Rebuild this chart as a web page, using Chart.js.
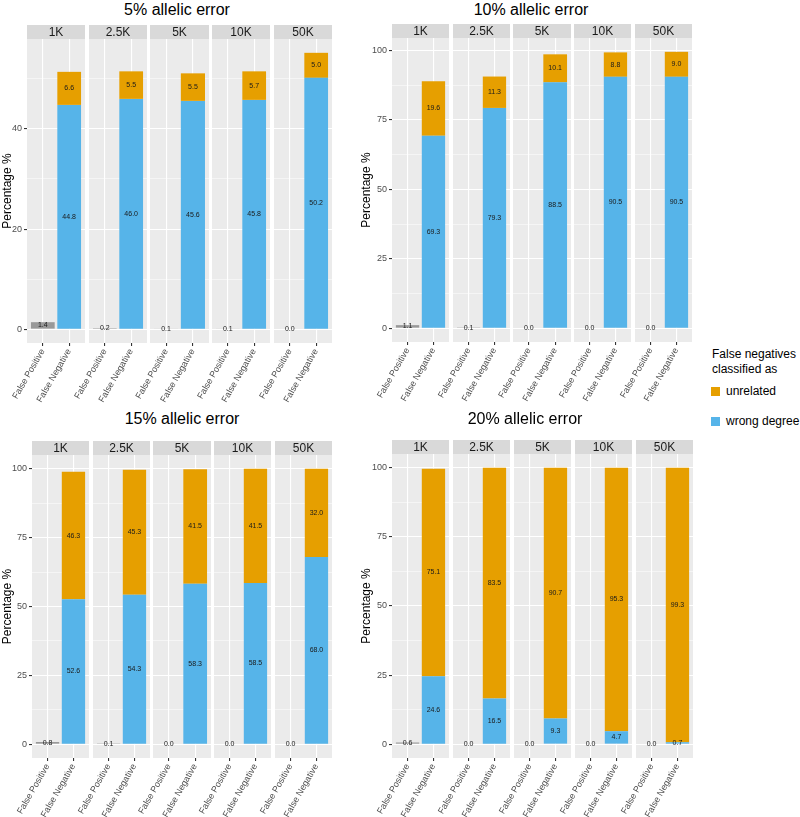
<!DOCTYPE html>
<html>
<head>
<meta charset="utf-8">
<script src="https://cdn.jsdelivr.net/npm/chart.js@4.4.1/dist/chart.umd.min.js"></script>
<style>
html,body{margin:0;padding:0;background:#fff;}
#root{position:relative;width:800px;height:817px;overflow:hidden;font-family:"Liberation Sans",Arial,Helvetica,sans-serif;}
#root canvas{position:absolute;}
.ptitle{position:absolute;font-size:16px;color:#000;white-space:nowrap;transform:translate(-50%,-50%);line-height:1;}
.lg{position:absolute;font-size:12px;color:#000;white-space:nowrap;line-height:15px;}
.sw{position:absolute;width:9px;height:9px;}
</style>
</head>
<body>
<div id="root"></div>
<script>
// ---------------- DATA ----------------
const facets = ['1K', '2.5K', '5K', '10K', '50K'];
const categories = ['False Positive', 'False Negative'];
const panelTitles = ['5% allelic error', '10% allelic error', '15% allelic error', '20% allelic error'];
const legendTitle = ['False negatives', 'classified as'];
const seriesNames = ['unrelated', 'wrong degree'];

const falsePositive5  = [1.4, 0.2, 0.1, 0.1, 0.0];
const wrongDegree5    = [44.8, 46.0, 45.6, 45.8, 50.2];
const unrelated5      = [6.6, 5.5, 5.5, 5.7, 5.0];

const falsePositive10 = [1.1, 0.1, 0.0, 0.0, 0.0];
const wrongDegree10   = [69.3, 79.3, 88.5, 90.5, 90.5];
const unrelated10     = [19.6, 11.3, 10.1, 8.8, 9.0];

const falsePositive15 = [0.8, 0.1, 0.0, 0.0, 0.0];
const wrongDegree15   = [52.6, 54.3, 58.3, 58.5, 68.0];
const unrelated15     = [46.3, 45.3, 41.5, 41.5, 32.0];

const falsePositive20 = [0.6, 0.0, 0.0, 0.0, 0.0];
const wrongDegree20   = [24.6, 16.5, 9.3, 4.7, 0.7];
const unrelated20     = [75.1, 83.5, 90.7, 95.3, 99.3];

const yTicks5  = [0, 20, 40];
const yTicks10 = [0, 25, 50, 75, 100];
const yTicks15 = [0, 25, 50, 75, 100];
const yTicks20 = [0, 25, 50, 75, 100];

// ---------------- STYLE / LAYOUT ----------------
const FONT = "'Liberation Sans', Arial, Helvetica, sans-serif";
const COL_FP = '#999999', COL_WRONG = '#56B4E9', COL_UNREL = '#E69F00';
const PANEL_BG = '#EBEBEB', STRIP_BG = '#D9D9D9';
const stripH = 14, gapX = 3.5, xAxisH = 60;

const panelData = [
  {fp: falsePositive5,  wd: wrongDegree5,  un: unrelated5,  ticks: yTicks5},
  {fp: falsePositive10, wd: wrongDegree10, un: unrelated10, ticks: yTicks10},
  {fp: falsePositive15, wd: wrongDegree15, un: unrelated15, ticks: yTicks15},
  {fp: falsePositive20, wd: wrongDegree20, un: unrelated20, ticks: yTicks20}
];
const panelLayout = [
  {L: 27, R: 332, T: 24.5, B: 343, cLeft: 0,   tx: 177, ty: 10},
  {L: 392, R: 692, T: 24, B: 342, cLeft: 359, tx: 531, ty: 10},
  {L: 32, R: 332, T: 440.5, B: 758, cLeft: 0, tx: 182, ty: 419},
  {L: 392, R: 693, T: 440, B: 758, cLeft: 359, tx: 525, ty: 419}
];

Chart.defaults.font.family = FONT;

const facetStrip = {
  id: 'facetStrip',
  beforeDraw(chart, args, opts) {
    const ca = chart.chartArea, ctx = chart.ctx;
    ctx.save();
    ctx.fillStyle = PANEL_BG;
    ctx.fillRect(ca.left, ca.top, ca.right - ca.left, ca.bottom - ca.top);
    ctx.fillStyle = STRIP_BG;
    ctx.fillRect(ca.left, ca.top - stripH, ca.right - ca.left, stripH);
    ctx.fillStyle = '#1A1A1A';
    ctx.font = '12px ' + FONT;
    ctx.textAlign = 'center';
    ctx.textBaseline = 'middle';
    ctx.fillText(opts.text || '', (ca.left + ca.right) / 2, ca.top - stripH / 2 + 0.5);
    ctx.restore();
  }
};

const barLabels = {
  id: 'barLabels',
  afterDatasetsDraw(chart) {
    const ctx = chart.ctx;
    ctx.save();
    ctx.font = '7px ' + FONT;
    ctx.fillStyle = '#1A1A1A';
    ctx.textAlign = 'center';
    ctx.textBaseline = 'middle';
    chart.data.datasets.forEach((ds, d) => {
      const meta = chart.getDatasetMeta(d);
      meta.data.forEach((el, j) => {
        const v = ds.data[j].y;
        ctx.fillText(v.toFixed(1), el.x, (el.y + el.base) / 2);
      });
    });
    ctx.restore();
  }
};

const root = document.getElementById('root');

panelData.forEach((pd, k) => {
  const pl = panelLayout[k];
  const t = document.createElement('div');
  t.className = 'ptitle';
  t.style.left = pl.tx + 'px';
  t.style.top = pl.ty + 'px';
  t.textContent = panelTitles[k];
  root.appendChild(t);

  // y range with ggplot-style 5% expansion
  let maxV = 0;
  facets.forEach((f, i) => { maxV = Math.max(maxV, pd.fp[i], pd.wd[i] + pd.un[i]); });
  const yMin = -0.05 * maxV, yMax = maxV * 1.05;
  const step = pd.ticks[1] - pd.ticks[0];
  const allTicks = [];
  for (let v = pd.ticks[0] - step / 2; v <= yMax; v += step / 2) {
    if (v >= yMin) allTicks.push(v);
  }
  const isMajor = v => pd.ticks.some(m => Math.abs(m - v) < 1e-6);

  const w = (pl.R - pl.L - 4 * gapX) / 5;
  facets.forEach((f, i) => {
    const fl = Math.round(pl.L + i * (w + gapX));
    const fr = Math.round(pl.L + i * (w + gapX) + w);
    const fw = fr - fl;
    let cLeft, padL, yW;
    if (i === 0) { cLeft = pl.cLeft; padL = 0; yW = fl - cLeft; }
    else { cLeft = fl - 40; padL = 40; yW = 0; }
    const padR = 8;
    const cW = fl - cLeft + fw + padR;
    const cTop = Math.round(pl.T);
    const cH = Math.round(pl.B) - cTop + xAxisH;

    const cv = document.createElement('canvas');
    cv.width = cW; cv.height = cH;
    cv.style.left = cLeft + 'px'; cv.style.top = cTop + 'px';
    cv.style.width = cW + 'px'; cv.style.height = cH + 'px';
    root.appendChild(cv);

    const first = i === 0;
    new Chart(cv, {
      type: 'bar',
      data: {
        datasets: [
          {label: categories[0], data: [{x: 1, y: pd.fp[i]}], backgroundColor: COL_FP},
          {label: seriesNames[1], data: [{x: 2, y: pd.wd[i]}], backgroundColor: COL_WRONG},
          {label: seriesNames[0], data: [{x: 2, y: pd.un[i]}], backgroundColor: COL_UNREL}
        ]
      },
      options: {
        responsive: false,
        animation: false,
        devicePixelRatio: 1,
        categoryPercentage: 1,
        barPercentage: 0.9,
        layout: {padding: {left: padL, right: padR, top: stripH, bottom: 0}},
        plugins: {
          legend: {display: false},
          tooltip: {enabled: false},
          title: {display: false},
          facetStrip: {text: f}
        },
        scales: {
          x: {
            type: 'linear',
            stacked: true,
            offset: false,
            bounds: 'data',
            min: 0.4, max: 2.6,
            afterBuildTicks: s => { s.ticks = [{value: 1}, {value: 2}]; },
            afterFit: s => { s.height = xAxisH; },
            border: {display: false},
            grid: {offset: false, color: '#FFFFFF', lineWidth: 1.1, drawTicks: true, tickLength: 3, tickColor: '#333333'},
            ticks: {
              autoSkip: false, minRotation: 60, maxRotation: 60, padding: 1,
              color: '#4D4D4D', font: {size: 9},
              callback: v => categories[Math.round(v) - 1]
            }
          },
          y: {
            type: 'linear',
            stacked: true,
            min: yMin, max: yMax,
            afterBuildTicks: s => { s.ticks = allTicks.map(v => ({value: v})); },
            afterFit: s => { s.width = yW; },
            border: {display: false},
            grid: {
              color: '#FFFFFF',
              lineWidth: c => (c.tick && isMajor(c.tick.value)) ? 1.1 : 0.5,
              drawTicks: first,
              tickLength: 3,
              tickColor: c => (c.tick && isMajor(c.tick.value)) ? '#333333' : 'rgba(0,0,0,0)'
            },
            ticks: {
              display: first, autoSkip: false, padding: 2,
              color: '#4D4D4D', font: {size: 9},
              callback: v => isMajor(v) ? String(Math.round(v)) : ''
            },
            title: {
              display: first, text: 'Percentage %', color: '#000000',
              font: {size: 12}, padding: 0
            }
          }
        }
      },
      plugins: [facetStrip, barLabels]
    });
  });
});

// legend
function addDiv(cls, left, top, text, bg) {
  const d = document.createElement('div');
  d.className = cls;
  d.style.left = left + 'px';
  d.style.top = top + 'px';
  if (text) d.innerHTML = text;
  if (bg) d.style.background = bg;
  root.appendChild(d);
}
addDiv('lg', 712, 347, legendTitle.join('<br>'));
addDiv('sw', 711, 387, '', COL_UNREL);
addDiv('lg', 726, 384, seriesNames[0]);
addDiv('sw', 711, 417, '', COL_WRONG);
addDiv('lg', 726, 414, seriesNames[1]);
</script>
</body>
</html>
